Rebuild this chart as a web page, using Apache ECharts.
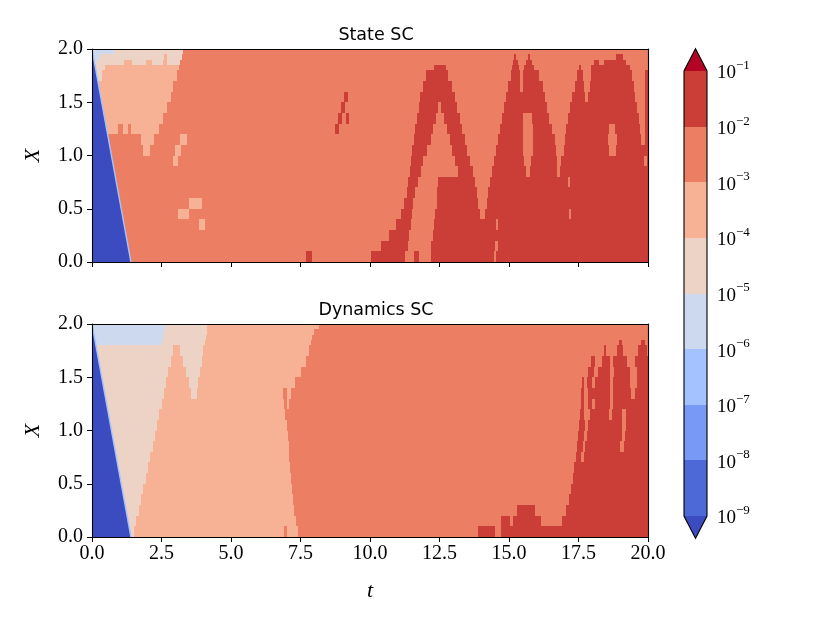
<!DOCTYPE html>
<html><head><meta charset="utf-8">
<script src="https://cdn.jsdelivr.net/npm/echarts@6/dist/echarts.min.js"></script>
<style>html,body{margin:0;padding:0;background:#fff}#c{width:830px;height:623px}</style>
</head><body><div id="c"></div>
<script>
// ---- data ----
// X row edges (rows are horizontal strips of the field)
const X_EDGES = [0,0.1,0.2,0.3,0.4,0.5,0.6,0.7,0.8,0.9,1.0,1.1,1.2,1.3,1.4,1.5,1.6,1.7,1.8,1.85,1.9,1.95,2.0];
// colour-bar level exponents (boundaries 1e-9 ... 1e-1)
const LEVEL_EXPONENTS = [-9,-8,-7,-6,-5,-4,-3,-2,-1];
// wave front: the region left of the line from (t=0, X=2) to (t=1.4, X=0) is below 1e-9
const WAVE_FRONT_T = [0, 1.4];
const WAVE_FRONT_X = [2, 0];
// Each row: pairs [levelIndex, tEnd] running from t=0 to t=20 (the wave-front triangle is drawn on top).
// levelIndex 0 = below 1e-9, 1..8 = bands 1e-9..1e-1, 9 = above 1e-1
const STATE_ROWS = [
 [7,7.7, 8,7.9, 7,10.05, 8,11.25, 7,11.6, 8,11.75, 7,12.2, 8,14.45, 7,14.55, 8,20],
 [7,10.4, 8,11.35, 7,12.2, 8,14.5, 7,14.6, 8,20],
 [7,10.68, 8,11.42, 7,12.27, 8,20],
 [7,3.85, 6,4.05, 7,10.93, 8,11.47, 7,12.32, 8,14.55, 7,14.62, 8,20],
 [7,3.1, 6,3.5, 7,11.12, 8,11.5, 7,12.35, 8,13.95, 7,14.12, 8,17.15, 7,17.22, 8,20],
 [7,3.5, 6,3.95, 7,11.22, 8,11.55, 7,12.4, 8,13.88, 7,14.2, 8,20],
 [7,11.33, 8,11.63, 7,12.4, 8,13.86, 7,14.25, 8,20],
 [7,11.38, 8,11.72, 7,12.45, 8,13.78, 7,14.32, 8,17.12, 7,17.2, 8,20],
 [7,11.43, 8,11.83, 7,13.17, 8,13.69, 7,14.39, 8,15.6, 7,15.75, 8,16.72, 7,16.85, 8,20],
 [7,2.9, 6,3.1, 7,11.47, 8,11.92, 7,13.05, 8,13.6, 7,14.45, 8,15.55, 7,15.8, 8,16.74, 7,16.88, 8,19.85, 7,19.95, 8,20],
 [7,1.85, 6,2.08, 7,3.0, 6,3.2, 7,11.52, 8,12.06, 7,12.95, 8,13.5, 7,14.52, 8,15.5, 7,15.85, 8,16.68, 7,16.97, 8,18.6, 7,18.85, 8,20],
 [7,1.75, 6,2.24, 7,3.15, 6,3.4, 7,11.57, 8,12.19, 7,12.86, 8,13.41, 7,14.59, 8,15.5, 7,15.85, 8,16.66, 7,17.0, 8,18.55, 7,18.9, 8,19.74, 7,19.9, 8,20],
 [6,0.95, 7,1.1, 6,1.3, 7,1.4, 6,2.4, 7,8.75, 8,8.88, 7,11.62, 8,12.28, 7,12.77, 8,13.32, 7,14.67, 8,15.5, 7,15.85, 8,16.56, 7,17.06, 8,18.6, 7,18.8, 8,19.71, 7,19.9, 8,20],
 [6,2.56, 7,8.85, 8,9.0, 7,9.15, 8,9.25, 7,11.68, 8,12.37, 7,12.66, 8,13.23, 7,14.75, 8,15.52, 7,15.83, 8,16.45, 7,17.13, 8,19.68, 7,19.9, 8,20],
 [6,2.71, 7,8.95, 8,9.1, 7,11.75, 8,12.46, 7,12.55, 8,13.14, 7,14.83, 8,16.36, 7,17.21, 8,19.62, 7,19.9, 8,20],
 [6,2.83, 7,9.05, 8,9.2, 7,11.81, 8,13.05, 7,14.9, 8,16.29, 7,17.28, 8,17.72, 7,17.85, 8,19.55, 7,19.9, 8,20],
 [6,2.93, 7,11.9, 8,12.94, 7,14.98, 8,15.4, 7,15.5, 8,16.21, 7,17.36, 8,17.68, 7,17.9, 8,19.5, 7,19.9, 8,20],
 [5,0.35, 6,3.04, 7,12.03, 8,12.82, 7,15.06, 8,15.38, 7,15.52, 8,16.07, 7,17.45, 8,17.65, 7,17.95, 8,19.42, 7,19.9, 8,20],
 [5,0.45, 6,3.12, 7,12.3, 8,12.75, 7,15.12, 8,15.35, 7,15.55, 8,15.9, 7,17.5, 8,17.6, 7,17.95, 8,19.35, 7,20],
 [5,1.15, 6,1.45, 5,1.95, 6,2.15, 5,2.55, 6,2.7, 5,3.17, 7,15.15, 8,15.32, 7,15.62, 8,15.82, 7,18.05, 8,18.25, 7,18.4, 8,19.2, 7,20],
 [4,0.3, 5,2.58, 6,2.68, 5,3.22, 7,15.18, 8,15.26, 7,15.68, 8,15.74, 7,18.85, 8,19.1, 7,20],
 [4,0.8, 5,3.28, 7,20]
];
const DYNAMICS_ROWS = [
 [5,1.52, 6,6.9, 7,7.0, 6,7.4, 7,13.9, 8,14.5, 7,14.7, 8,20],
 [5,1.6, 6,7.33, 7,14.7, 8,15.05, 7,15.15, 8,16.15, 7,16.9, 8,20],
 [5,1.69, 6,7.27, 7,15.3, 8,15.95, 7,17.05, 8,20],
 [5,1.77, 6,7.24, 7,17.15, 8,20],
 [5,1.85, 6,7.21, 7,17.24, 8,20],
 [5,1.93, 6,7.17, 7,17.29, 8,20],
 [5,2.01, 6,7.14, 7,17.35, 8,20],
 [5,2.1, 6,7.1, 7,17.41, 8,17.6, 7,17.7, 8,20],
 [5,2.18, 6,7.07, 7,17.46, 8,17.65, 7,17.75, 8,19.0, 7,19.12, 8,20],
 [5,2.26, 6,7.04, 7,17.49, 8,17.7, 7,17.8, 8,19.05, 7,19.18, 8,20],
 [5,2.34, 6,7.0, 7,17.51, 8,17.75, 7,17.85, 8,19.05, 7,19.2, 8,20],
 [5,2.42, 6,6.95, 7,17.56, 8,17.7, 7,17.9, 8,18.6, 7,18.72, 8,19.05, 7,19.2, 8,20],
 [5,2.51, 6,6.9, 7,7.0, 6,7.1, 7,17.58, 8,17.7, 7,17.85, 8,18.0, 7,18.1, 8,18.65, 7,18.75, 8,20],
 [5,2.59, 6,3.57, 5,3.76, 6,6.88, 7,7.0, 6,7.15, 7,17.6, 8,17.7, 7,17.85, 8,18.62, 7,18.75, 8,19.38, 7,19.55, 8,20],
 [5,2.67, 6,3.49, 5,3.82, 6,7.29, 7,17.62, 8,17.68, 7,17.82, 8,17.98, 7,18.1, 8,18.65, 7,18.75, 8,19.35, 7,19.6, 8,20],
 [5,2.75, 6,3.39, 5,3.88, 6,7.52, 7,17.85, 8,18.05, 7,18.2, 8,18.65, 7,18.78, 8,19.35, 7,19.6, 8,20],
 [5,2.83, 6,3.27, 5,3.95, 6,7.68, 7,17.95, 8,18.1, 7,18.35, 8,18.62, 7,18.75, 8,19.25, 7,19.55, 8,20],
 [5,2.92, 6,3.15, 5,4.0, 6,7.8, 7,18.4, 8,18.5, 7,18.9, 8,19.1, 7,19.65, 8,19.95, 7,20],
 [4,2.53, 5,4.06, 6,7.88, 7,18.95, 8,19.05, 7,19.75, 8,19.88, 7,20],
 [4,2.56, 5,4.09, 6,7.93, 7,20],
 [4,2.6, 5,4.12, 6,8.0, 7,20],
 [4,2.64, 5,4.15, 6,8.15, 7,20]
];
// ---- styles ----
const COLORS = ['#3b4cc0','#4d68d7','#779af7','#a3c2ff','#ccd9ee','#ecd3c5','#f7b194','#ec7f63','#cb3e38','#b40426'];
const SERIF = '"Liberation Serif","DejaVu Serif",serif';
const SANS = '"DejaVu Sans","Noto Sans",sans-serif';

function rowsToCells(rows){
  const out = [];
  rows.forEach((r,i)=>{
    let t0 = 0;
    for(let k=0;k<r.length;k+=2){
      const lvl = r[k], t1 = r[k+1];
      if (t1 > t0) out.push([t0, t1, X_EDGES[i], X_EDGES[i+1], lvl]);
      t0 = t1;
    }
  });
  return out;
}
function renderCell(params, api){
  const a = api.coord([api.value(0), api.value(3)]);
  const b = api.coord([api.value(1), api.value(2)]);
  const c = COLORS[api.value(4)];
  const x0 = Math.round(a[0]), x1 = Math.round(b[0]);
  const y0 = Math.round(a[1]), y1 = Math.round(b[1]);
  return {type:'rect', shape:{x:x0, y:y0, width:Math.max(x1-x0,1), height:y1-y0},
          style:{fill:c}};
}
function renderFront(params, api){
  const top = api.coord([WAVE_FRONT_T[0], WAVE_FRONT_X[0]]);
  const bot = api.coord([WAVE_FRONT_T[1], WAVE_FRONT_X[1]]);
  const corner = api.coord([WAVE_FRONT_T[0], WAVE_FRONT_X[1]]);
  return {type:'group', children:[
    {type:'polygon', shape:{points:[corner, top, bot]}, style:{fill:COLORS[0]}},
    {type:'line', shape:{x1:top[0], y1:top[1], x2:bot[0], y2:bot[1]}, style:{stroke:COLORS[3], lineWidth:1.4}}
  ]};
}
// colour bar bands
const BAR_DATA = [];
for(let k=0;k<LEVEL_EXPONENTS.length-1;k++) BAR_DATA.push([LEVEL_EXPONENTS[k], LEVEL_EXPONENTS[k+1], k+1]);
const EXT = 0.4;
function renderBar(params, api){
  const lvl = api.value(2);
  const a = api.coord([0, api.value(1)]), b = api.coord([1, api.value(0)]);
  return {type:'rect', shape:{x:a[0], y:Math.round(a[1]), width:b[0]-a[0], height:Math.round(b[1])-Math.round(a[1])},
          style:{fill:COLORS[lvl]}};
}
const lo = LEVEL_EXPONENTS[0], hi = LEVEL_EXPONENTS[LEVEL_EXPONENTS.length-1];
function renderExt(params, api){
  if (params.dataIndex === 0){
    return {type:'polygon', shape:{points:[api.coord([0,lo]), api.coord([1,lo]), api.coord([0.5,lo-EXT])]}, style:{fill:COLORS[0]}};
  }
  return {type:'polygon', shape:{points:[api.coord([0,hi]), api.coord([1,hi]), api.coord([0.5,hi+EXT])]}, style:{fill:COLORS[9]}};
}
function renderOutline(params, api){
  const pts = [api.coord([0.5,lo-EXT]), api.coord([0,lo]), api.coord([0,hi]), api.coord([0.5,hi+EXT]), api.coord([1,hi]), api.coord([1,lo])];
  return {type:'polygon', shape:{points:pts}, style:{fill:'none', stroke:'#000', lineWidth:1.1}};
}

const tickLabel = {fontFamily:SERIF, fontSize:20, color:'#000'};
function mainX(g, labels){
  return {gridIndex:g, type:'value', min:0, max:20, interval:2.5, z:10,
    axisLine:{show:true, onZero:false, lineStyle:{color:'#000', width:1.1}},
    axisTick:{show:true, inside:false, length:5, lineStyle:{color:'#000'}},
    axisLabel:Object.assign({show:labels, margin:7, formatter:v=>v.toFixed(1)}, tickLabel),
    splitLine:{show:false},
    name: labels ? 't' : '', nameLocation:'middle', nameGap:43,
    nameTextStyle:{fontFamily:SERIF, fontStyle:'italic', fontSize:22, color:'#000'}};
}
function mainY(g){
  return {gridIndex:g, type:'value', min:0, max:2, interval:0.5, z:10,
    axisLine:{show:true, onZero:false, lineStyle:{color:'#000', width:1.1}},
    axisTick:{show:true, inside:false, length:5, lineStyle:{color:'#000'}},
    axisLabel:Object.assign({margin:9, formatter:v=>v.toFixed(1)}, tickLabel),
    splitLine:{show:false},
    name:'X', nameLocation:'middle', nameGap:48, nameRotate:90,
    nameTextStyle:{fontFamily:SERIF, fontStyle:'italic', fontSize:22, color:'#000'}};
}
function frameX(g){
  return {gridIndex:g, type:'value', min:0, max:20, position:'top', z:10,
    axisLine:{show:true, onZero:false, lineStyle:{color:'#000', width:1.1}},
    axisTick:{show:false}, axisLabel:{show:false}, splitLine:{show:false}};
}
function frameY(g){
  return {gridIndex:g, type:'value', min:0, max:2, position:'right', z:10,
    axisLine:{show:true, onZero:false, lineStyle:{color:'#000', width:1.1}},
    axisTick:{show:false}, axisLabel:{show:false}, splitLine:{show:false}};
}

const chart = echarts.init(document.getElementById('c'), null, {renderer:'canvas'});
chart.setOption({
  animation:false,
  backgroundColor:'#fff',
  title:[
    {text:'State SC', left:371, top:21, textAlign:'center', textStyle:{fontFamily:SANS, fontSize:17.5, fontWeight:'normal', color:'#000'}},
    {text:'Dynamics SC', left:371, top:296, textAlign:'center', textStyle:{fontFamily:SANS, fontSize:17.5, fontWeight:'normal', color:'#000'}}
  ],
  grid:[
    {left:92, top:49, width:556, height:213},
    {left:92, top:324, width:556, height:213},
    {left:684, top:71, width:23, height:445}
  ],
  xAxis:[mainX(0,false), mainX(1,true), frameX(0), frameX(1),
    {gridIndex:2, type:'value', min:0, max:1, show:false}],
  yAxis:[mainY(0), mainY(1), frameY(0), frameY(1),
    {gridIndex:2, type:'value', min:lo, max:hi, interval:1, position:'right',
     axisLine:{show:false}, splitLine:{show:false},
     axisTick:{show:true, inside:false, length:4, lineStyle:{color:'#000', width:1}},
     axisLabel:{margin:10, formatter:v=>'{b|10}{s|\u2212'+(-v)+'}',
       rich:{b:{fontFamily:SERIF, fontSize:19, color:'#000', verticalAlign:'bottom', lineHeight:24},
             s:{fontFamily:SERIF, fontSize:13, color:'#000', verticalAlign:'top', lineHeight:13}}}}],
  series:[
    {type:'custom', xAxisIndex:0, yAxisIndex:0, clip:true, renderItem:renderCell, data:rowsToCells(STATE_ROWS), z:1, silent:true},
    {type:'custom', xAxisIndex:0, yAxisIndex:0, clip:true, renderItem:renderFront, data:[[0]], z:1, silent:true},
    {type:'custom', xAxisIndex:1, yAxisIndex:1, clip:true, renderItem:renderCell, data:rowsToCells(DYNAMICS_ROWS), z:1, silent:true},
    {type:'custom', xAxisIndex:1, yAxisIndex:1, clip:true, renderItem:renderFront, data:[[0]], z:1, silent:true},
    {type:'custom', xAxisIndex:4, yAxisIndex:4, renderItem:renderBar, data:BAR_DATA, z:2, silent:true},
    {type:'custom', xAxisIndex:4, yAxisIndex:4, renderItem:renderExt, data:[[lo],[hi]], z:2, silent:true},
    {type:'custom', xAxisIndex:4, yAxisIndex:4, renderItem:renderOutline, data:[[0]], z:3, silent:true}
  ]
});
</script></body></html>
